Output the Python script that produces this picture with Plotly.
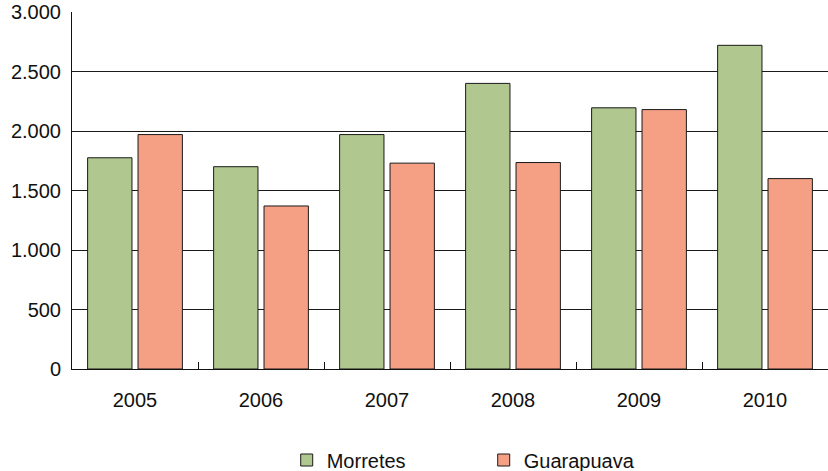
import plotly.graph_objects as go

# Annual values per municipality
years = ["2005", "2006", "2007", "2008", "2009", "2010"]
morretes = [1775, 1700, 1970, 2400, 2195, 2720]
guarapuava = [1970, 1370, 1730, 1735, 2180, 1600]

# Y axis ticks (Brazilian thousands separator)
y_tickvals = [0, 500, 1000, 1500, 2000, 2500, 3000]
y_ticktext = ["0", "500", "1.000", "1.500", "2.000", "2.500", "3.000"]

FONT = "Liberation Sans, Arial, sans-serif"

fig = go.Figure()
fig.add_trace(go.Bar(
    x=years, y=morretes, name="Morretes",
    marker=dict(color="#B0C88F", line=dict(color="#1a1a1a", width=1)),
))
fig.add_trace(go.Bar(
    x=years, y=guarapuava, name="Guarapuava",
    marker=dict(color="#F5A085", line=dict(color="#1a1a1a", width=1)),
))

fig.update_layout(
    width=828, height=471,
    margin=dict(l=72, r=0, t=12, b=102),
    paper_bgcolor="white", plot_bgcolor="white",
    barmode="group", bargap=0.2, bargroupgap=0.12,
    font=dict(family=FONT, size=20, color="#111"),
    showlegend=True,
    legend=dict(
        orientation="h",
        xref="paper", x=0.284, xanchor="left",
        yref="container", y=1 - 460 / 471, yanchor="middle",
        entrywidth=152, entrywidthmode="pixels",
        font=dict(family=FONT, size=20, color="#111"),
        bgcolor="rgba(0,0,0,0)",
    ),
)

fig.update_xaxes(
    showgrid=False,
    showline=True, linecolor="#111", linewidth=1,
    ticks="inside", ticklen=7, tickcolor="#111", tickwidth=1,
    tickson="boundaries",
    ticklabelstandoff=13,
    tickfont=dict(family=FONT, size=20, color="#111"),
)
fig.update_yaxes(
    range=[0, 3000],
    tickvals=y_tickvals, ticktext=y_ticktext,
    showgrid=True, gridcolor="#1a1a1a", gridwidth=1,
    zeroline=False,
    showline=True, linecolor="#111", linewidth=1,
    ticks="", ticklabelstandoff=6,
    tickfont=dict(family=FONT, size=20, color="#111"),
)

fig.write_html("out.html")
